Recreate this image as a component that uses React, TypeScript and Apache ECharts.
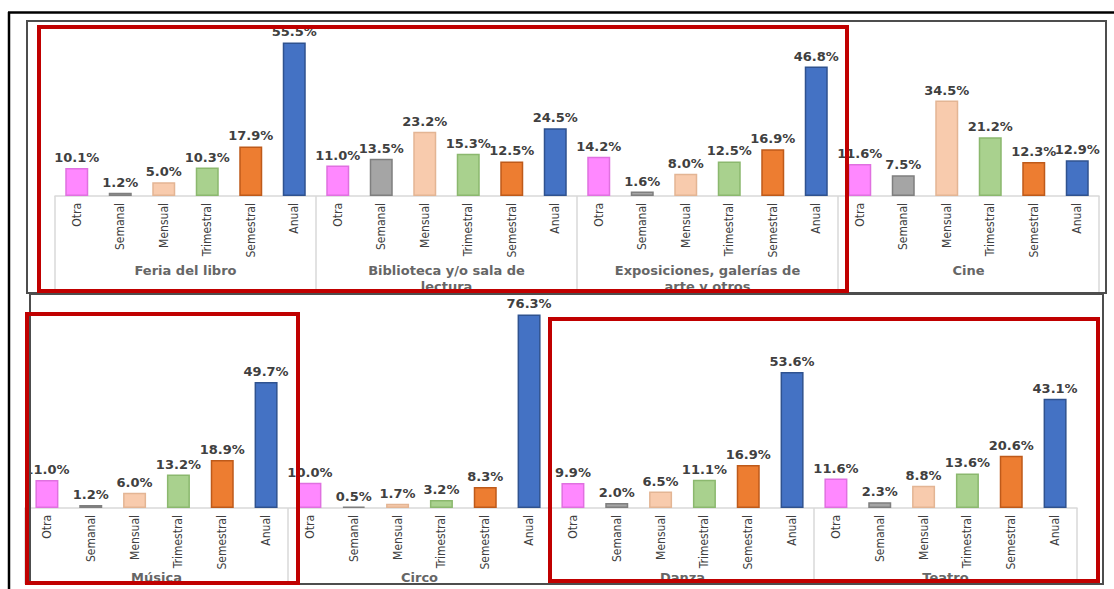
import React, { useEffect, useRef } from "react";
import * as echarts from "echarts";

const frequencies = ["Otra", "Semanal", "Mensual", "Trimestral", "Semestral", "Anual"];
const topGroups = ["Feria del libro", "Biblioteca y/o sala de lectura", "Exposiciones, galerías de arte y otros", "Cine"];
const bottomGroups = ["Música", "Circo", "Danza", "Teatro"];

const feria = [10.1, 1.2, 5.0, 10.3, 17.9, 55.5];
const biblioteca = [11.0, 13.5, 23.2, 15.3, 12.5, 24.5];
const exposiciones = [14.2, 1.6, 8.0, 12.5, 16.9, 46.8];
const cine = [11.6, 7.5, 34.5, 21.2, 12.3, 12.9];
const musica = [11.0, 1.2, 6.0, 13.2, 18.9, 49.7];
const circo = [10.0, 0.5, 1.7, 3.2, 8.3, 76.3];
const danza = [9.9, 2.0, 6.5, 11.1, 16.9, 53.6];
const teatro = [11.6, 2.3, 8.8, 13.6, 20.6, 43.1];

const fills = ["#FF88FF", "#A5A5A5", "#F8CBAD", "#A9D18E", "#ED7D31", "#4472C4"];
const borders = ["#E070E0", "#7F7F7F", "#E3B594", "#8BB86E", "#BE5A1A", "#2F528F"];

const groupLabelText: Record<string, string> = {
  "Biblioteca y/o sala de lectura": "Biblioteca y/o sala de\nlectura",
  "Exposiciones, galerías de arte y otros": "Exposiciones, galerías de\narte y otros",
};

function buildCats(groups: string[]) {
  const out: string[] = [];
  groups.forEach((g, gi) => frequencies.forEach((f) => out.push(gi + "|" + f)));
  return out;
}

function buildData(rows: number[][]) {
  const out: any[] = [];
  rows.forEach((r) =>
    r.forEach((v, i) =>
      out.push({
        value: v,
        itemStyle: { color: fills[i], borderColor: borders[i], borderWidth: 1.5 },
      })
    )
  );
  return out;
}

const catLabel = {
  rotate: 90,
  interval: 0,
  margin: 7,
  fontSize: 12,
  color: "#404040",
  fontFamily: "'Liberation Sans Narrow', 'DejaVu Sans Condensed', sans-serif",
  formatter: (v: string) => v.split("|")[1],
};

const groupLabel = (margin: number) => ({
  interval: 0,
  margin,
  fontSize: 13,
  lineHeight: 16,
  fontWeight: "bold",
  color: "#666666",
  verticalAlign: "top",
  fontFamily: "'DejaVu Sans', sans-serif",
  formatter: (v: string) => groupLabelText[v] || v,
});

const valueLabel = {
  show: true,
  position: "top",
  distance: 4,
  fontSize: 13,
  fontWeight: "bold",
  color: "#404040",
  fontFamily: "'DejaVu Sans', sans-serif",
  formatter: (p: any) => Number(p.value).toFixed(1) + "%",
};

export default function App() {
  const ref = useRef<HTMLDivElement>(null);
  useEffect(() => {
    if (!ref.current) return;
    const chart = echarts.init(ref.current, null, { renderer: "svg" });
    const topCats = buildCats(topGroups);
    const botCats = buildCats(bottomGroups);
    chart.setOption({
      animation: false,
      backgroundColor: "#ffffff",
      grid: [
        { left: 55, top: 30, width: 1044, height: 166 },
        { left: 25, top: 305, width: 1052, height: 203 },
      ],
      xAxis: [
        {
          type: "category",
          gridIndex: 0,
          data: topCats,
          axisLine: { lineStyle: { color: "#D9D9D9", width: 1.5 } },
          axisTick: { show: false },
          axisLabel: catLabel,
        },
        {
          type: "category",
          gridIndex: 0,
          data: topGroups,
          position: "bottom",
          axisLine: { show: false },
          axisTick: { show: true, interval: 0, length: 96, lineStyle: { color: "#D9D9D9", width: 1.5 } },
          axisLabel: groupLabel(66),
        },
        {
          type: "category",
          gridIndex: 1,
          data: botCats,
          axisLine: { lineStyle: { color: "#D9D9D9", width: 1.5 } },
          axisTick: { show: false },
          axisLabel: catLabel,
        },
        {
          type: "category",
          gridIndex: 1,
          data: bottomGroups,
          position: "bottom",
          axisLine: { show: false },
          axisTick: { show: true, interval: 0, length: 76, lineStyle: { color: "#D9D9D9", width: 1.5 } },
          axisLabel: groupLabel(61),
        },
      ],
      yAxis: [
        { type: "value", gridIndex: 0, min: 0, max: 60, show: false, splitLine: { show: false } },
        { type: "value", gridIndex: 1, min: 0, max: 80, show: false, splitLine: { show: false } },
      ],
      series: [
        {
          type: "bar",
          xAxisIndex: 0,
          yAxisIndex: 0,
          barWidth: 23,
          data: buildData([feria, biblioteca, exposiciones, cine]),
          label: valueLabel,
        },
        {
          type: "bar",
          xAxisIndex: 2,
          yAxisIndex: 1,
          barWidth: 23,
          data: buildData([musica, circo, danza, teatro]),
          label: valueLabel,
        },
      ],
      graphic: [
        { type: "line", z: 100, shape: { x1: 8, y1: 12.5, x2: 1114, y2: 12.5 }, style: { stroke: "#000", lineWidth: 2.5 } },
        { type: "line", z: 100, shape: { x1: 9, y1: 12, x2: 9, y2: 589 }, style: { stroke: "#000", lineWidth: 2.5 } },
        { type: "rect", z: 100, shape: { x: 27, y: 21, width: 1079, height: 272 }, style: { fill: "none", stroke: "#4D4D4D", lineWidth: 2 } },
        { type: "rect", z: 100, shape: { x: 30, y: 294, width: 1073, height: 290 }, style: { fill: "none", stroke: "#4D4D4D", lineWidth: 2 } },
        { type: "rect", z: 101, shape: { x: 39, y: 27, width: 808, height: 264 }, style: { fill: "none", stroke: "#C00000", lineWidth: 4 } },
        { type: "rect", z: 101, shape: { x: 27, y: 314, width: 271, height: 269 }, style: { fill: "none", stroke: "#C00000", lineWidth: 4 } },
        { type: "rect", z: 101, shape: { x: 550, y: 319, width: 548, height: 262 }, style: { fill: "none", stroke: "#C00000", lineWidth: 4 } },
      ],
    });
    return () => chart.dispose();
  }, []);
  return (
    <div
      ref={ref}
      style={{ position: "absolute", left: 0, top: 0, width: 1114, height: 589 }}
    />
  );
}
